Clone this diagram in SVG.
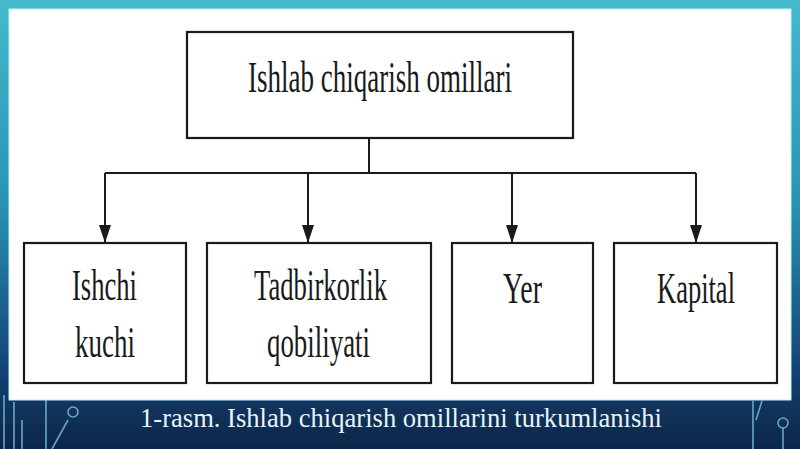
<svg xmlns="http://www.w3.org/2000/svg" width="800" height="449" viewBox="0 0 800 449">
<style>
.box{fill:#ffffff;stroke:#1a1a1a;stroke-width:2.2}
.lbl{font-family:"Liberation Serif","Times New Roman",serif;font-size:44px;fill:#1a1a1a;text-anchor:middle}
.conn{fill:none;stroke:#1a1a1a;stroke-width:2}
.circ{fill:none;stroke:#7fc6e0;stroke-width:1.6;opacity:0.8}
.cap{font-family:"Liberation Serif","Times New Roman",serif;font-size:27px;fill:#e9f4fa;text-anchor:middle}
</style>
<defs>
<linearGradient id="bg" x1="0" y1="0" x2="0" y2="1">
<stop offset="0" stop-color="#44b9cd"/>
<stop offset="0.45" stop-color="#2a93b5"/>
<stop offset="0.8" stop-color="#14477a"/>
<stop offset="1" stop-color="#0b2447"/>
</linearGradient>
<linearGradient id="band" x1="0" y1="0" x2="0" y2="1">
<stop offset="0" stop-color="#12365f"/>
<stop offset="1" stop-color="#0b2548"/>
</linearGradient>
<marker id="ah" markerWidth="18" markerHeight="12" refX="18" refY="6" orient="auto" markerUnits="userSpaceOnUse" viewBox="0 0 18 12">
<path d="M0,0 L18,6 L0,12 Z" fill="#1a1a1a"/>
</marker>
</defs>
<rect x="0" y="0" width="800" height="449" fill="url(#bg)"/>
<rect x="0" y="401" width="800" height="48" fill="url(#band)"/>
<g id="circuit">
<path class="circ" d="M4,395 L4,449 M14,402 L14,449 M22,420 L22,449 M46,402 L46,449 M38,380 Q46,395 46,402"/>
<path class="circ" d="M52,449 L68,420"/>
<circle class="circ" cx="73" cy="412" r="5"/>
<path class="circ" d="M753,401 L753,449 M762,401 L756,420"/>
<circle class="circ" cx="783" cy="423" r="5"/>
<path class="circ" d="M783,428 L783,449"/>
</g>
<rect x="9" y="9" width="782" height="391" fill="#ffffff" stroke="#bff0f7" stroke-width="1"/>
<g id="connectors">
<path class="conn" d="M369,138 L369,173"/>
<path class="conn" d="M105,173 L696,173"/>
<path class="conn" d="M105,173 L105,243" marker-end="url(#ah)"/>
<path class="conn" d="M308,173 L308,243" marker-end="url(#ah)"/>
<path class="conn" d="M512,173 L512,243" marker-end="url(#ah)"/>
<path class="conn" d="M696,173 L696,243" marker-end="url(#ah)"/>
</g>
<g id="root">
<rect class="box" x="187" y="32" width="386" height="106"/>
<text class="lbl" x="380" y="92" textLength="264" lengthAdjust="spacingAndGlyphs">Ishlab chiqarish omillari</text>
</g>
<g id="ishchi">
<rect class="box" x="24" y="243" width="162" height="140"/>
<text class="lbl" x="104.5" y="300" textLength="65" lengthAdjust="spacingAndGlyphs">Ishchi</text>
<text class="lbl" x="105" y="357" textLength="60" lengthAdjust="spacingAndGlyphs">kuchi</text>
</g>
<g id="tadbirkorlik">
<rect class="box" x="207" y="243" width="224" height="140"/>
<text class="lbl" x="320.5" y="300" textLength="133" lengthAdjust="spacingAndGlyphs">Tadbirkorlik</text>
<text class="lbl" x="318.5" y="357" textLength="103" lengthAdjust="spacingAndGlyphs">qobiliyati</text>
</g>
<g id="yer">
<rect class="box" x="452" y="243" width="141" height="140"/>
<text class="lbl" x="522.5" y="303" textLength="39" lengthAdjust="spacingAndGlyphs">Yer</text>
</g>
<g id="kapital">
<rect class="box" x="614" y="243" width="163" height="140"/>
<text class="lbl" x="696" y="303" textLength="78" lengthAdjust="spacingAndGlyphs">Kapital</text>
</g>
<text class="cap" x="401" y="427" textLength="522" lengthAdjust="spacingAndGlyphs">1-rasm. Ishlab chiqarish omillarini turkumlanishi</text>
</svg>
